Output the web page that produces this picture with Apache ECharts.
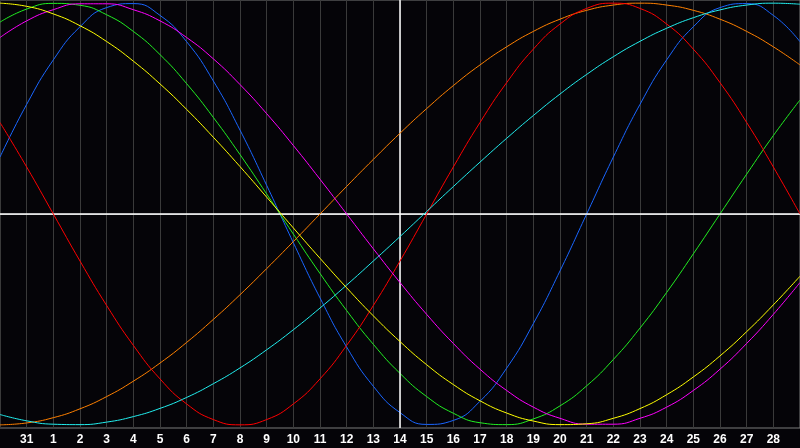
<!DOCTYPE html>
<html><head><meta charset="utf-8">
<script src="https://cdn.jsdelivr.net/npm/echarts@6/dist/echarts.min.js"></script>
<style>html,body{margin:0;padding:0;background:#050408;}#c{width:800px;height:448px;}</style>
</head><body><div id="c"></div><script>
const days = ['30','31','1','2','3','4','5','6','7','8','9','10','11','12','13','14','15','16','17','18','19','20','21','22','23','24','25','26','27','28','29'];
const today = '14';
const red = [0.434,0.223,0,-0.223,-0.434,-0.623,-0.782,-0.901,-0.975,-1,-0.975,-0.901,-0.782,-0.623,-0.434,-0.223,0,0.223,0.434,0.623,0.782,0.901,0.975,1,0.975,0.901,0.782,0.623,0.434,0.223,0];
const blue = [0.270,0.520,0.731,0.888,0.979,0.998,0.942,0.817,0.631,0.398,0.136,-0.136,-0.398,-0.631,-0.817,-0.942,-0.998,-0.979,-0.888,-0.731,-0.520,-0.270,0,0.270,0.520,0.731,0.888,0.979,0.998,0.942,0.817];
const green = [0.910,0.972,0.999,0.990,0.945,0.866,0.756,0.618,0.458,0.282,0.095,-0.095,-0.282,-0.458,-0.618,-0.756,-0.866,-0.945,-0.990,-0.999,-0.972,-0.910,-0.815,-0.690,-0.541,-0.372,-0.189,0,0.189,0.372,0.541];
const orange = [-1,-0.991,-0.966,-0.924,-0.866,-0.793,-0.707,-0.609,-0.5,-0.383,-0.259,-0.131,0,0.131,0.259,0.383,0.5,0.609,0.707,0.793,0.866,0.924,0.966,0.991,1,0.991,0.966,0.924,0.866,0.793,0.707];
const cyan = [-0.951,-0.981,-0.997,-0.999,-0.987,-0.961,-0.922,-0.870,-0.805,-0.730,-0.644,-0.549,-0.446,-0.337,-0.223,-0.107,0.012,0.130,0.246,0.359,0.467,0.569,0.662,0.746,0.819,0.881,0.931,0.968,0.991,1.0,0.995];
const yellow = [1.0,0.985,0.949,0.893,0.818,0.725,0.617,0.496,0.364,0.225,0.080,-0.066,-0.210,-0.350,-0.483,-0.605,-0.715,-0.809,-0.886,-0.944,-0.982,-0.999,-0.995,-0.969,-0.923,-0.857,-0.773,-0.673,-0.558,-0.431,-0.295];
const magenta = [0.837,0.916,0.969,0.997,0.997,0.969,0.916,0.837,0.736,0.614,0.476,0.325,0.165,0,-0.165,-0.325,-0.476,-0.614,-0.736,-0.837,-0.916,-0.969,-0.997,-0.997,-0.969,-0.916,-0.837,-0.736,-0.614,-0.476,-0.325];

const seriesDefs = [
  ['blue', blue, '#1a66ff'],
  ['green', green, '#22ee22'],
  ['orange', orange, '#ff8000'],
  ['red', red, '#ff0000'],
  ['cyan', cyan, '#22eeee'],
  ['magenta', magenta, '#ff00ff'],
  ['yellow', yellow, '#ffff00']
];

const chart = echarts.init(document.getElementById('c'));
const series = seriesDefs.map(([name, data, color], i) => ({
  name, type: 'line', data, smooth: 0.5, symbol: 'none',
  lineStyle: {color, width: 1}, itemStyle: {color},
  z: 3 + i, silent: true
}));
series.push({
  type: 'line', data: [], silent: true,
  markLine: {
    symbol: 'none', silent: true, label: {show: false},
    lineStyle: {color: '#ffffff', width: 1.5, type: 'solid'},
    data: [{yAxis: 0}, {xAxis: today}]
  }
});
chart.setOption({
  backgroundColor: '#050408',
  animation: false,
  grid: {left: 0, right: 0, top: 0, bottom: 20, show: true, borderColor: '#7a7a7a', borderWidth: 1, backgroundColor: 'transparent'},
  xAxis: {
    type: 'category', data: days, boundaryGap: false,
    axisLine: {lineStyle: {color: '#8a8a8a', width: 1}},
    axisTick: {show: false},
    splitLine: {show: true, interval: 0, lineStyle: {color: '#3a3a3a', width: 1}},
    axisLabel: {color: '#ffffff', fontWeight: 'bold', fontSize: 12, fontFamily: 'Liberation Sans', margin: 6,
      interval: function (i) { return i > 0 && i < days.length - 1; }}
  },
  yAxis: {
    type: 'value', min: -1.015, max: 1.015,
    axisLine: {show: false}, axisTick: {show: false}, axisLabel: {show: false}, splitLine: {show: false}
  },
  series
});
</script></body></html>
